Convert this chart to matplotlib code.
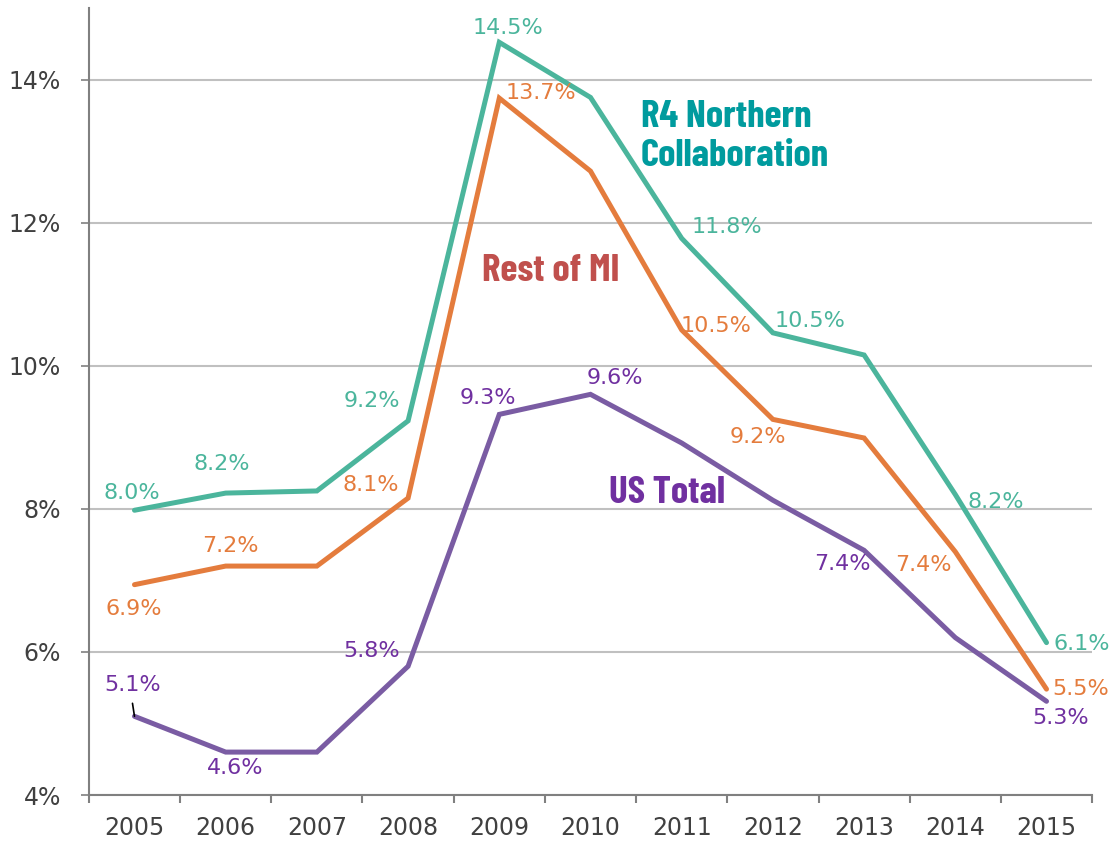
import matplotlib.pyplot as plt
import numpy as np

years = ['2005', '2006', '2007', '2008', '2009', '2010',
         '2011', '2012', '2013', '2014', '2015']
r4_northern = [7.98, 8.22, 8.25, 9.23, 14.52, 13.75, 11.78, 10.46, 10.15, 8.2, 6.13]
rest_of_mi = [6.94, 7.2, 7.2, 8.15, 13.74, 12.72, 10.5, 9.25, 8.99, 7.4, 5.48]
us_total = [5.1, 4.6, 4.6, 5.8, 9.32, 9.6, 8.92, 8.12, 7.42, 6.2, 5.31]

# which points get a value label, and the label text
r4_labels = {0: '8.0%', 1: '8.2%', 3: '9.2%', 4: '14.5%', 6: '11.8%',
             7: '10.5%', 9: '8.2%', 10: '6.1%'}
mi_labels = {0: '6.9%', 1: '7.2%', 3: '8.1%', 4: '13.7%', 6: '10.5%',
             7: '9.2%', 9: '7.4%', 10: '5.5%'}
us_labels = {0: '5.1%', 1: '4.6%', 3: '5.8%', 4: '9.3%', 5: '9.6%',
             8: '7.4%', 10: '5.3%'}

# label offsets in pixels (dx right, dy up)
r4_off = {0: (-3, 17), 1: (-4, 29), 3: (-36, 20), 4: (9, 14), 6: (45, 11),
          7: (37, 12), 9: (40, -7), 10: (35, -1)}
mi_off = {0: (-1, -24), 1: (5, 20), 3: (-37, 13), 4: (42, 5), 6: (34, 4),
          7: (-15, -18), 9: (-32, -13), 10: (34, 0)}
us_off = {0: (-2, 31), 1: (10, -16), 3: (-36, 15), 4: (-11, 16), 5: (24, 16),
          8: (-22, -14), 10: (14, -17)}

GREEN = '#4BB59C'
ORANGE = '#E47C3D'
PURPLE = '#7A5CA3'
PURPLE_TXT = '#7030A0'

PX = 72 / 100.  # pixels -> points
BODY = 'DejaVu Sans'
HEAD = ['Barlow Condensed', 'DejaVu Sans']

fig = plt.figure(figsize=(11.11, 8.42), dpi=100)
ax = fig.add_axes([0.080, 0.0558, 0.903, 0.9347])

x = np.arange(len(years))
series = [(r4_northern, GREEN, GREEN, r4_labels, r4_off),
          (rest_of_mi, ORANGE, ORANGE, mi_labels, mi_off),
          (us_total, PURPLE, PURPLE_TXT, us_labels, us_off)]
for vals, lc, tc, labels, offs in series:
    ax.plot(x, vals, color=lc, lw=3.6, solid_capstyle='round',
            solid_joinstyle='miter', zorder=3)
    for i, txt in labels.items():
        dx, dy = offs[i]
        ax.annotate(txt, (x[i], vals[i]), xytext=(dx * PX, dy * PX),
                    textcoords='offset points', ha='center', va='center',
                    color=tc, fontsize=16, family=BODY, zorder=4)

# leader line for the first US label
ax.annotate('', (x[0], us_total[0]), xytext=(-2 * PX, 13 * PX),
            textcoords='offset points',
            arrowprops=dict(arrowstyle='-', color='black', lw=1.2,
                            shrinkA=0, shrinkB=0))

bold = dict(fontsize=28, fontweight='bold', family=HEAD)
ax.text(5.55, 13.2, 'R4 Northern\nCollaboration', color='#009B9E',
        ha='left', va='center', linespacing=1.18, **bold)
ax.text(4.56, 11.33, 'Rest of MI', color='#C0504D', ha='center',
        va='center', **bold)
ax.text(5.84, 8.22, 'US Total', color=PURPLE_TXT, ha='center',
        va='center', **bold)

ax.set_xlim(-0.5, 10.5)
ax.set_ylim(4, 15)
ax.set_yticks(np.arange(4, 15, 2))
ax.set_yticklabels([f'{v}%' for v in range(4, 15, 2)])
ax.set_xticks(np.arange(-0.5, 11, 1))
ax.set_xticklabels([])
ax.set_xticks(x, minor=True)
ax.set_xticklabels(years, minor=True)
ax.tick_params(axis='x', which='minor', length=0, pad=15)
ax.tick_params(axis='x', which='major', length=6, width=1.5, color='#808080')
ax.tick_params(axis='y', length=6, width=1.2, color='#808080', pad=14)
for lab in ax.get_xticklabels(minor=True) + ax.get_yticklabels():
    lab.set_fontsize(17)
    lab.set_color('#404040')
    lab.set_family(BODY)

ax.grid(axis='y', color='#C0C0C0', lw=1.5, zorder=0)
for side in ['top', 'right']:
    ax.spines[side].set_visible(False)
ax.spines['left'].set_color('#808080')
ax.spines['bottom'].set_color('#808080')
ax.spines['left'].set_linewidth(1.5)
ax.spines['bottom'].set_linewidth(1.5)

fig.savefig('out.png', dpi=100)
